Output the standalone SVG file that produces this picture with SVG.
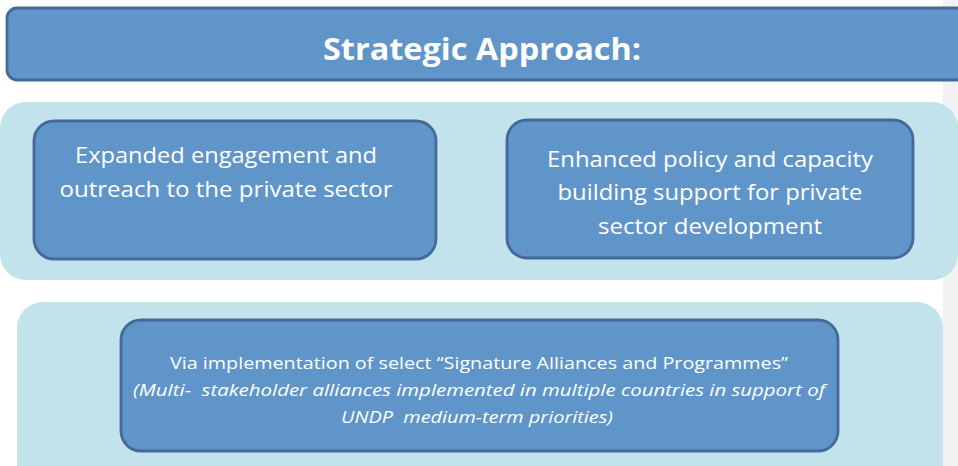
<svg xmlns="http://www.w3.org/2000/svg" width="958" height="466" viewBox="0 0 958 466">
  <style>
    .panel { fill: #c3e3ec; }
    .box { fill: #5f95c8; stroke: #44699a; stroke-width: 2.8; }
    .txt { fill: #ffffff; font-family: "Open Sans", "Noto Sans", "Liberation Sans", sans-serif; text-anchor: middle; }
    .title { font-size: 31px; font-weight: bold; }
    .mid { font-size: 22px; }
    .small { font-size: 17px; }
    .ital { font-style: italic; }
  </style>
  <!-- page margin strip -->
  <rect x="943" y="0" width="15" height="466" fill="#f2f2f2"/>
  <!-- background panels -->
  <rect class="panel" x="0" y="102" width="958" height="178" rx="26"/>
  <rect class="panel" x="17" y="302" width="926" height="190" rx="26"/>

  <g id="title">
    <rect class="box" x="7" y="8" width="960" height="72" rx="10"/>
    <text class="txt title" x="482" y="60" textLength="318" lengthAdjust="spacingAndGlyphs">Strategic Approach:</text>
  </g>

  <g id="engagement">
    <rect class="box" x="34" y="121" width="402" height="138" rx="20"/>
    <text class="txt mid" x="226" y="163" textLength="302" lengthAdjust="spacingAndGlyphs">Expanded engagement and</text>
    <text class="txt mid" x="226" y="197" textLength="333" lengthAdjust="spacingAndGlyphs">outreach to the private sector</text>
  </g>

  <g id="policy">
    <rect class="box" x="507" y="120" width="406" height="138" rx="20"/>
    <text class="txt mid" x="710" y="167" textLength="326" lengthAdjust="spacingAndGlyphs">Enhanced policy and capacity</text>
    <text class="txt mid" x="710" y="200" textLength="305" lengthAdjust="spacingAndGlyphs">building support for private</text>
    <text class="txt mid" x="710" y="234" textLength="224" lengthAdjust="spacingAndGlyphs">sector development</text>
  </g>

  <g id="signature">
    <rect class="box" x="121" y="320" width="717" height="131" rx="20"/>
    <text class="txt small" x="479" y="369" textLength="618" lengthAdjust="spacingAndGlyphs">Via implementation of select “Signature Alliances and Programmes”</text>
    <text class="txt small ital" x="479" y="396" textLength="692" lengthAdjust="spacingAndGlyphs" xml:space="preserve">(Multi-  stakeholder alliances implemented in multiple countries in support of</text>
    <text class="txt small ital" x="477" y="423" textLength="272" lengthAdjust="spacingAndGlyphs" xml:space="preserve">UNDP  medium-term priorities)</text>
  </g>

  <g id="connectors"></g>
</svg>
